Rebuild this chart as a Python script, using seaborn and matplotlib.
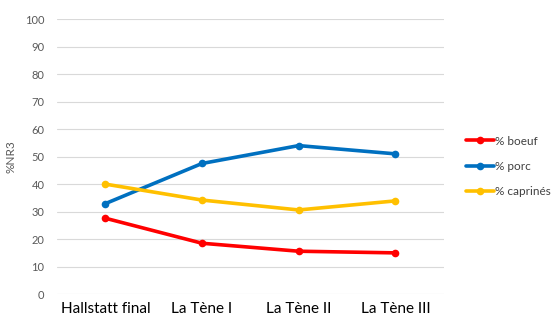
import matplotlib
matplotlib.use("Agg")
import matplotlib.pyplot as plt
import seaborn as sns
import pandas as pd

periods = ["Hallstatt final", "La Tène I", "La Tène II", "La Tène III"]
boeuf = [27.6, 18.5, 15.6, 15.0]
porc = [32.9, 47.5, 54.0, 51.0]
caprines = [40.0, 34.2, 30.6, 33.9]
series_names = ["% boeuf", "% porc", "% caprinés"]
colors = ["#FF0000", "#0070C0", "#FFC000"]

rows = []
for name, vals in zip(series_names, [boeuf, porc, caprines]):
    for i, v in enumerate(vals):
        rows.append({"x": i, "val": v, "serie": name})
df = pd.DataFrame(rows)

sns.set_style("white")
plt.rcParams["font.family"] = ["Lato", "DejaVu Sans"]

fig = plt.figure(figsize=(5.56, 3.29), dpi=100)
ax = fig.add_axes([0.1025, 0.106, 0.6955, 0.836])

sns.lineplot(data=df, x="x", y="val", hue="serie", palette=colors,
             marker="o", markersize=5.5, markeredgewidth=0, linewidth=2.6,
             ax=ax, legend=True)

ax.set_xlim(-0.5, 3.5)
ax.set_ylim(0, 100)
ax.set_yticks(range(0, 101, 10))
ax.set_xticks(range(len(periods)))
ax.set_xticklabels(periods, fontsize=11, color="black")
ax.tick_params(axis="y", labelsize=8, labelcolor="#595959", length=0, pad=9)
ax.tick_params(axis="x", length=0, pad=6)
ax.grid(axis="y", color="#D9D9D9", linewidth=0.8)
ax.set_axisbelow(True)
for s in ax.spines.values():
    s.set_visible(False)
ax.set_xlabel("")
ax.set_ylabel("%NR3", fontsize=8.5, color="#595959", labelpad=6)

leg = ax.legend(loc="center left", bbox_to_anchor=(1.03, 0.465), frameon=False,
                fontsize=8.5, handlelength=2.4, handletextpad=0.1,
                labelspacing=1.2)
for t in leg.get_texts():
    t.set_color("#404040")
for line in leg.get_lines():
    line.set_linewidth(2.6)

fig.savefig("out.png", dpi=100, facecolor="white")
